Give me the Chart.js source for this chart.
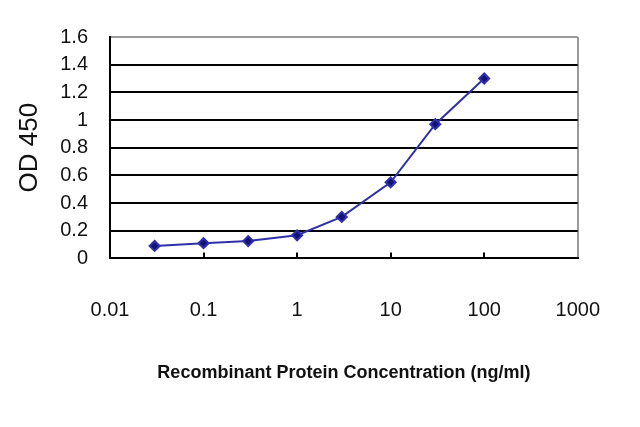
<!DOCTYPE html>
<html>
<head>
<meta charset="utf-8">
<script src="https://cdn.jsdelivr.net/npm/chart.js@4/dist/chart.umd.min.js"></script>
<style>
  html, body { margin: 0; padding: 0; background: #fff; }
  #wrap { width: 640px; height: 427px; }
</style>
</head>
<body>
<div id="wrap"><canvas id="grafico"></canvas></div>
<script>
// concentracoes (ng/ml) e leituras OD 450
const concentracoes = [0.03, 0.1, 0.3, 1, 3, 10, 30, 100];
const leiturasOD = [0.09, 0.11, 0.125, 0.167, 0.30, 0.55, 0.97, 1.30];
const ticksX = [0.01, 0.1, 1, 10, 100, 1000];
const ticksY = [0, 0.2, 0.4, 0.6, 0.8, 1, 1.2, 1.4, 1.6];

const fonte = "'Liberation Sans', Arial, sans-serif";

// pequenos tracos para dentro no eixo x
const tracosInternos = {
    id: 'tracosInternos',
    afterDatasetsDraw(chart) {
        const { ctx, scales: { x }, chartArea } = chart;
        ctx.save();
        ctx.strokeStyle = '#000';
        ctx.lineWidth = 2;
        ticksX.slice(1, -1).forEach(v => {
            const px = Math.round(x.getPixelForValue(v));
            ctx.beginPath();
            ctx.moveTo(px, chartArea.bottom);
            ctx.lineTo(px, chartArea.bottom - 6);
            ctx.stroke();
        });
        ctx.restore();
    }
};

new Chart(document.getElementById('grafico'), {
    type: 'line',
    data: {
        datasets: [{
            label: 'OD 450',
            data: concentracoes.map((c, i) => ({ x: c, y: leiturasOD[i] })),
            borderColor: '#3030a8',
            backgroundColor: '#12127a',
            borderWidth: 2,
            pointStyle: 'rectRot',
            pointRadius: 5,
            tension: 0
        }]
    },
    options: {
        responsive: true,
        maintainAspectRatio: false,
        animation: false,
        layout: { padding: { top: 37, right: 60, bottom: 43, left: 14 } },
        plugins: { legend: { display: false }, tooltip: { enabled: false } },
        scales: {
            x: {
                type: 'logarithmic',
                min: 0.01,
                max: 1000,
                afterBuildTicks: s => { s.ticks = ticksX.map(v => ({ value: v })); },
                ticks: {
                    callback: v => String(v),
                    color: '#111',
                    font: { family: fonte, size: 20 },
                    padding: 40,
                    maxRotation: 0,
                    autoSkip: false
                },
                grid: {
                    drawTicks: false,
                    lineWidth: 2,
                    color: ctx => (ctx.tick && ctx.tick.value === 1000 ? '#9a9a9a' : 'rgba(0,0,0,0)')
                },
                border: { color: '#000', width: 2 },
                title: {
                    display: true,
                    text: 'Recombinant Protein Concentration (ng/ml)',
                    color: '#111',
                    font: { family: fonte, size: 18, weight: 'bold' },
                    padding: { top: 0, bottom: 0 }
                }
            },
            y: {
                min: 0,
                max: 1.6,
                afterBuildTicks: s => { s.ticks = ticksY.map(v => ({ value: v })); },
                afterFit: s => { s.width = 96; },
                ticks: {
                    callback: v => String(+v.toFixed(1)),
                    color: '#111',
                    font: { family: fonte, size: 20 },
                    padding: 22,
                    autoSkip: false
                },
                grid: {
                    drawTicks: false,
                    lineWidth: 2,
                    color: ctx => (ctx.tick && ctx.tick.value === 1.6 ? '#9a9a9a' : '#000')
                },
                border: { color: '#000', width: 2 },
                title: {
                    display: true,
                    text: 'OD 450',
                    color: '#111',
                    font: { family: fonte, size: 26 },
                    padding: { top: 0, bottom: 0 }
                }
            }
        }
    },
    plugins: [tracosInternos]
});
</script>
</body>
</html>
